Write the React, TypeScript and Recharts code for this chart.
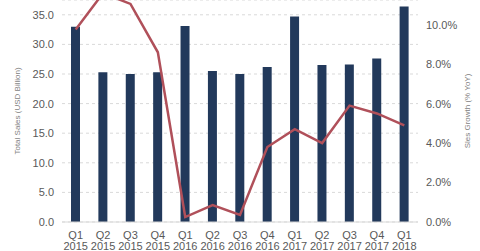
import { ComposedChart, Bar, Line, XAxis, YAxis, CartesianGrid } from 'recharts';

const quarters = [
  'Q1 2015', 'Q2 2015', 'Q3 2015', 'Q4 2015',
  'Q1 2016', 'Q2 2016', 'Q3 2016', 'Q4 2016',
  'Q1 2017', 'Q2 2017', 'Q3 2017', 'Q4 2017',
  'Q1 2018',
];
const totalSales = [33.0, 25.3, 25.0, 25.3, 33.1, 25.5, 25.0, 26.2, 34.7, 26.5, 26.6, 27.6, 36.4];
const salesGrowth = [9.75, 11.6, 11.05, 8.6, 0.25, 0.86, 0.36, 3.8, 4.7, 4.0, 5.9, 5.5, 4.9];
const leftTicks = [0, 5, 10, 15, 20, 25, 30, 35];
const rightTicks = [0, 2, 4, 6, 8, 10];

const data = quarters.map((q, i) => ({ q, sales: totalSales[i], growth: salesGrowth[i] }));

const FONT = '"Liberation Sans", Arial, sans-serif';

function QuarterTick({ x, y, payload }: { x?: number; y?: number; payload?: { value: string } }) {
  const [qq, yr] = (payload?.value ?? '').split(' ');
  return (
    <g transform={`translate(${x},${y})`}>
      <text textAnchor="middle" fill="#595959" fontSize={11} fontFamily={FONT}>
        <tspan x={0} dy={9}>{qq}</tspan>
        <tspan x={0} dy={11}>{yr}</tspan>
      </text>
    </g>
  );
}

export default function App() {
  return (
    <div style={{ position: 'absolute', left: 0, top: 0, background: '#fff' }}>
      <ComposedChart width={480} height={251} data={data} margin={{ top: 0, right: 0, left: 0, bottom: 0 }}>
        <CartesianGrid vertical={false} yAxisId="left" strokeDasharray="3 3" stroke="#d9d9d9" />
        <XAxis
          dataKey="q"
          height={29}
          tick={<QuarterTick />}
          tickLine={false}
          axisLine={{ stroke: '#d9d9d9' }}
          interval={0}
        />
        <YAxis
          yAxisId="left"
          width={62}
          domain={[0, 37.5]}
          ticks={leftTicks}
          tickFormatter={(v: number) => v.toFixed(1)}
          tick={{ fill: '#595959', fontSize: 11, fontFamily: FONT }}
          axisLine={false}
          tickLine={false}
          label={{ value: 'Total Sales (USD Billion)', angle: -90, position: 'center', dx: -14, fill: '#7f7f7f', fontSize: 8, fontFamily: FONT }}
        />
        <YAxis
          yAxisId="right"
          orientation="right"
          width={62}
          domain={[0, 11.25]}
          allowDataOverflow
          ticks={rightTicks}
          tickFormatter={(v: number) => v.toFixed(1) + '%'}
          tick={{ fill: '#595959', fontSize: 11, fontFamily: FONT }}
          axisLine={false}
          tickLine={false}
          label={{ value: 'Sles Growth (% YoY)', angle: -90, position: 'center', dx: 18, fill: '#7f7f7f', fontSize: 8, fontFamily: FONT }}
        />
        <Bar yAxisId="left" dataKey="sales" fill="#22395B" barSize={9} isAnimationActive={false} />
        <Line
          yAxisId="right"
          dataKey="growth"
          type="linear"
          stroke="#B0505A"
          strokeWidth={2.5}
          dot={false}
          isAnimationActive={false}
        />
      </ComposedChart>
    </div>
  );
}
